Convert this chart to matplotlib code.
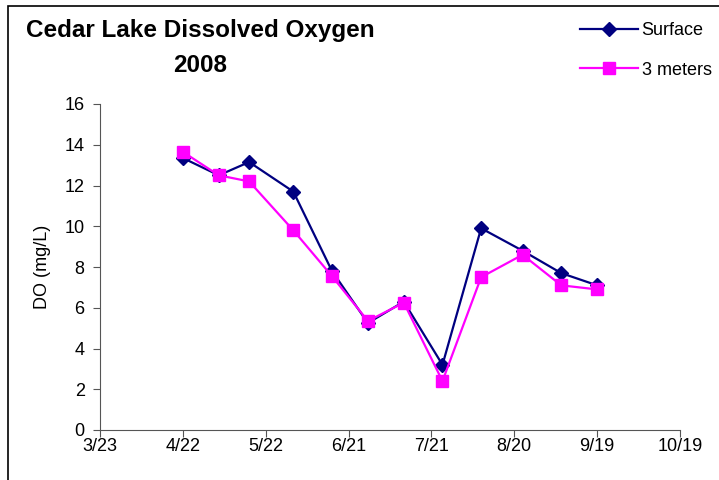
import datetime as dt
import matplotlib
matplotlib.use("Agg")
import matplotlib.pyplot as plt
from matplotlib.patches import Rectangle

plt.rcParams['font.family'] = ['Liberation Sans', 'DejaVu Sans']

# sample dates (2008) and DO readings
dates = ["2008-04-22", "2008-05-05", "2008-05-16", "2008-06-01", "2008-06-15",
         "2008-06-28", "2008-07-11", "2008-07-25", "2008-08-08", "2008-08-23",
         "2008-09-06", "2008-09-19"]
surface = [13.35, 12.5, 13.15, 11.7, 7.8, 5.25, 6.3, 3.2, 9.9, 8.8, 7.7, 7.1]
three_m = [13.65, 12.5, 12.2, 9.8, 7.55, 5.35, 6.25, 2.4, 7.5, 8.6, 7.1, 6.9]
tick_dates = ["2008-03-23", "2008-04-22", "2008-05-22", "2008-06-21",
              "2008-07-21", "2008-08-20", "2008-09-19", "2008-10-19"]
tick_labels = ["3/23", "4/22", "5/22", "6/21", "7/21", "8/20", "9/19", "10/19"]

x = [dt.datetime.strptime(d, "%Y-%m-%d") for d in dates]
xt = [dt.datetime.strptime(d, "%Y-%m-%d") for d in tick_dates]

fig = plt.figure(figsize=(7.19, 4.8), dpi=100)
ax = fig.add_axes([100 / 719, 50 / 480, 580 / 719, 326 / 480])

# outer chart border (runs off right and bottom edges)
fig.patches.append(Rectangle((8 / 719, -0.1), 1.2, 1.1 - 6 / 480,
                             transform=fig.transFigure, fill=False,
                             edgecolor='black', lw=1.2))

ax.plot(x, surface, '-D', color='#000080', ms=7, lw=1.6, label='Surface')
ax.plot(x, three_m, '-s', color='#FF00FF', ms=8, lw=1.6, label='3 meters')

ax.set_xlim(xt[0], xt[-1])
ax.set_ylim(0, 16)
ax.set_xticks(xt)
ax.set_xticklabels(tick_labels)
ax.set_yticks(range(0, 17, 2))
ax.tick_params(labelsize=13, length=5, color='#555555', pad=6)
ax.tick_params(axis='x', pad=1)
for s in ['top', 'right']:
    ax.spines[s].set_visible(False)
for s in ['left', 'bottom']:
    ax.spines[s].set_color('#555555')
ax.set_ylabel('DO (mg/L)', fontsize=13, labelpad=10)

fig.text(200 / 719, 1 - 31 / 480, 'Cedar Lake Dissolved Oxygen', fontsize=17.5,
         fontweight='bold', ha='center', va='center')
fig.text(200 / 719, 1 - 66 / 480, '2008', fontsize=17.5,
         fontweight='bold', ha='center', va='center')

fig.legend(loc='upper left', bbox_to_anchor=(573 / 719, 1 - 15 / 480),
           frameon=False, fontsize=13, handlelength=3.2, handletextpad=0.2,
           labelspacing=1.25, borderaxespad=0)

fig.savefig('out.png', dpi=100)
